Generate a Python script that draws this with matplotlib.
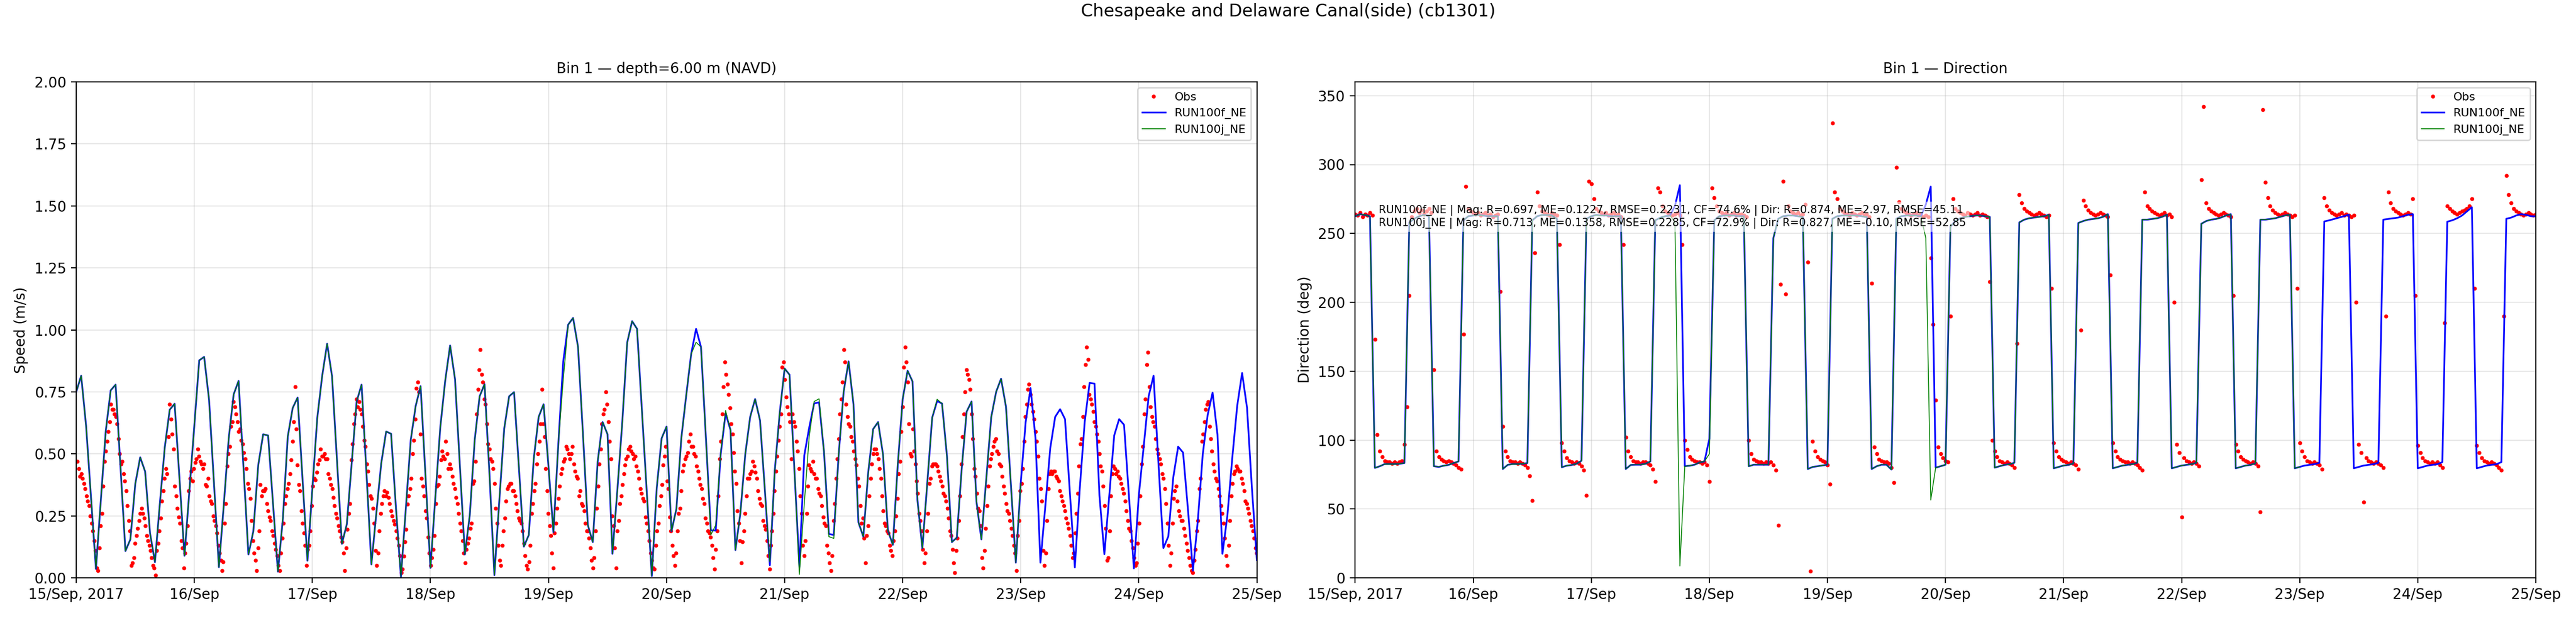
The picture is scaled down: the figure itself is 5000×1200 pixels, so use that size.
import numpy as np
import pandas as pd
import matplotlib
matplotlib.use("Agg")
import matplotlib.pyplot as plt
import matplotlib.dates as mdates
from matplotlib.ticker import FuncFormatter

# ---------------- data ----------------
START = "2017-09-15 00:00"
END = "2017-09-25 00:00"
SUPTITLE = "Chesapeake and Delaware Canal(side) (cb1301)"
TITLE_SPEED = "Bin 1 \u2014 depth=6.00 m (NAVD)"
TITLE_DIR = "Bin 1 \u2014 Direction"
LABELS = ["Obs", "RUN100f_NE", "RUN100j_NE"]
STATS = [
    "RUN100f_NE | Mag: R=0.697, ME=0.1227, RMSE=0.2231, CF=74.6% | Dir: R=0.874, ME=2.97, RMSE=45.11",
    "RUN100j_NE | Mag: R=0.713, ME=0.1358, RMSE=0.2285, CF=72.9% | Dir: R=0.827, ME=-0.10, RMSE=52.85",
]

MODEL_STEP_H = 1.0          # model output every hour
OBS_SPEED_STEP_MIN = 15.6   # observed speed sampling
OBS_DIR_STEP_MIN = 30.0     # observed direction sampling

# model speed (m/s), hourly from 15 Sep 00:00
model_speed_f = [
    0.750, 0.815, 0.613, 0.325, 0.036, 0.314, 0.592, 0.756, 0.779, 0.444, 0.108, 0.155,
    0.379, 0.486, 0.429, 0.180, 0.063, 0.300, 0.527, 0.678, 0.702, 0.397, 0.089, 0.350,
    0.613, 0.877, 0.891, 0.718, 0.380, 0.043, 0.296, 0.563, 0.740, 0.794, 0.444, 0.094,
    0.188, 0.455, 0.579, 0.574, 0.300, 0.025, 0.238, 0.570, 0.685, 0.727, 0.398, 0.069,
    0.360, 0.646, 0.815, 0.944, 0.812, 0.474, 0.137, 0.216, 0.463, 0.711, 0.779, 0.420,
    0.054, 0.260, 0.462, 0.590, 0.581, 0.280, 0.004, 0.280, 0.556, 0.693, 0.773, 0.410,
    0.040, 0.325, 0.606, 0.794, 0.937, 0.801, 0.447, 0.094, 0.253, 0.556, 0.732, 0.781,
    0.420, 0.011, 0.310, 0.602, 0.732, 0.749, 0.440, 0.126, 0.173, 0.480, 0.649, 0.700,
    0.449, 0.184, 0.540, 0.873, 1.021, 1.048, 0.932, 0.582, 0.213, 0.144, 0.469, 0.628,
    0.579, 0.097, 0.354, 0.628, 0.949, 1.035, 1.004, 0.672, 0.339, 0.007, 0.361, 0.563,
    0.610, 0.188, 0.278, 0.563, 0.736, 0.902, 1.004, 0.931, 0.564, 0.191, 0.191, 0.498,
    0.664, 0.596, 0.112, 0.260, 0.498, 0.649, 0.721, 0.635, 0.350, 0.051, 0.433, 0.664,
    0.844, 0.819, 0.433, 0.043, 0.494, 0.606, 0.703, 0.708, 0.510, 0.177, 0.173, 0.500,
    0.750, 0.873, 0.700, 0.224, 0.166, 0.426, 0.600, 0.628, 0.498, 0.191, 0.133, 0.455,
    0.721, 0.835, 0.792, 0.314, 0.119, 0.382, 0.646, 0.713, 0.703, 0.491, 0.144, 0.162,
    0.440, 0.670, 0.711, 0.307, 0.155, 0.400, 0.648, 0.750, 0.803, 0.690, 0.375, 0.061,
    0.382, 0.628, 0.765, 0.563, 0.061, 0.290, 0.523, 0.649, 0.680, 0.640, 0.340, 0.042,
    0.360, 0.628, 0.786, 0.783, 0.332, 0.095, 0.332, 0.574, 0.640, 0.617, 0.330, 0.038,
    0.332, 0.530, 0.732, 0.815, 0.460, 0.120, 0.167, 0.404, 0.529, 0.505, 0.274, 0.029,
    0.231, 0.498, 0.657, 0.747, 0.577, 0.097, 0.249, 0.483, 0.693, 0.826, 0.686, 0.360,
    0.072,
]

model_speed_j = [
    0.750, 0.815, 0.613, 0.325, 0.036, 0.314, 0.592, 0.756, 0.779, 0.444, 0.108, 0.155,
    0.379, 0.486, 0.429, 0.180, 0.063, 0.300, 0.527, 0.678, 0.702, 0.397, 0.089, 0.350,
    0.613, 0.877, 0.891, 0.718, 0.380, 0.043, 0.296, 0.563, 0.740, 0.794, 0.444, 0.094,
    0.188, 0.455, 0.579, 0.574, 0.300, 0.025, 0.238, 0.570, 0.685, 0.727, 0.398, 0.069,
    0.360, 0.646, 0.815, 0.944, 0.812, 0.474, 0.137, 0.216, 0.463, 0.711, 0.779, 0.420,
    0.054, 0.260, 0.462, 0.590, 0.581, 0.280, 0.004, 0.280, 0.556, 0.693, 0.773, 0.410,
    0.040, 0.325, 0.606, 0.794, 0.937, 0.801, 0.447, 0.094, 0.253, 0.556, 0.732, 0.781,
    0.420, 0.011, 0.310, 0.602, 0.732, 0.749, 0.440, 0.126, 0.173, 0.480, 0.649, 0.700,
    0.449, 0.184, 0.540, 0.800, 1.021, 1.048, 0.932, 0.582, 0.213, 0.144, 0.469, 0.628,
    0.579, 0.097, 0.354, 0.628, 0.949, 1.035, 1.004, 0.672, 0.339, 0.007, 0.361, 0.563,
    0.610, 0.188, 0.278, 0.563, 0.736, 0.902, 0.950, 0.931, 0.564, 0.173, 0.213, 0.505,
    0.675, 0.596, 0.112, 0.260, 0.498, 0.649, 0.721, 0.635, 0.350, 0.065, 0.433, 0.664,
    0.844, 0.819, 0.433, 0.014, 0.300, 0.570, 0.711, 0.722, 0.510, 0.166, 0.159, 0.500,
    0.750, 0.873, 0.700, 0.224, 0.166, 0.426, 0.600, 0.628, 0.498, 0.191, 0.133, 0.455,
    0.721, 0.835, 0.792, 0.314, 0.119, 0.382, 0.646, 0.720, 0.703, 0.491, 0.144, 0.162,
    0.440, 0.670, 0.711, 0.307, 0.155, 0.400, 0.648, 0.750, 0.803, 0.690, 0.375, 0.061,
    0.382,
]

# model direction (deg), hourly
model_dir_f = [
    262.5, 264.0, 263.4, 262.5, 79.8, 81.0, 82.6, 82.6, 82.6, 82.8, 83.3, 258.0,
    260.6, 262.5, 263.4, 262.5, 81.0, 80.5, 81.4, 82.0, 83.3, 84.5, 259.5, 262.5,
    263.0, 263.4, 263.0, 262.5, 262.5, 262.5, 79.0, 82.0, 82.6, 82.6, 82.8, 83.3,
    259.5, 262.5, 263.4, 263.4, 263.0, 260.6, 80.3, 81.4, 81.9, 82.8, 85.0, 260.6,
    262.5, 263.4, 263.0, 263.0, 262.5, 262.5, 262.5, 79.0, 81.9, 82.1, 82.1, 82.8,
    84.5, 259.5, 261.4, 262.5, 263.0, 270.0, 285.0, 81.0, 81.4, 82.1, 83.8, 84.5,
    101.0, 259.5, 262.5, 263.0, 263.0, 263.0, 262.5, 262.5, 81.0, 82.1, 82.1, 82.1,
    82.1, 246.6, 260.6, 262.5, 263.0, 263.0, 262.5, 261.8, 79.0, 80.5, 81.0, 81.6,
    82.1, 260.6, 262.5, 263.0, 263.0, 263.0, 263.0, 262.5, 261.8, 79.0, 81.0, 82.1,
    82.1, 78.6, 260.6, 262.5, 263.0, 263.0, 263.0, 262.5, 271.0, 284.0, 80.0, 81.0,
    82.1, 255.0, 259.0, 261.0, 262.0, 262.5, 263.0, 263.0, 262.5, 262.0, 80.0, 81.0,
    82.0, 82.5, 83.5, 258.0, 260.0, 261.0, 261.5, 262.0, 262.5, 263.5, 79.5, 80.5,
    81.5, 82.0, 83.0, 257.6, 259.0, 260.0, 260.5, 261.0, 262.0, 264.0, 79.5, 80.5,
    81.5, 82.0, 82.5, 83.5, 260.0, 260.0, 260.5, 261.0, 262.0, 263.6, 79.5, 80.5,
    81.5, 82.0, 82.5, 83.5, 257.0, 259.0, 260.0, 260.5, 261.5, 263.0, 264.0, 79.5,
    80.5, 81.5, 82.0, 83.0, 260.0, 260.0, 260.5, 261.0, 262.0, 263.0, 263.6, 79.5,
    80.5, 81.5, 82.0, 82.5, 83.5, 258.7, 259.5, 260.5, 261.5, 262.5, 263.6, 79.5,
    80.5, 81.5, 82.0, 82.5, 83.5, 260.0, 260.5, 261.0, 261.5, 262.5, 263.5, 264.0,
    79.5, 80.5, 81.5, 82.0, 82.5, 84.0, 258.5, 259.5, 261.0, 263.0, 266.0, 269.0,
    79.5, 80.5, 81.5, 82.0, 82.5, 84.0, 260.6, 261.5, 263.0, 264.0, 263.5, 262.5,
    262.4,
]

model_dir_j = [
    262.5, 264.0, 263.4, 262.5, 79.8, 81.0, 82.6, 82.6, 82.6, 82.8, 83.3, 258.0,
    260.6, 262.5, 263.4, 262.5, 81.0, 80.5, 81.4, 82.0, 83.3, 84.5, 259.5, 262.5,
    263.0, 263.4, 263.0, 262.5, 262.5, 262.5, 79.0, 82.0, 82.6, 82.6, 82.8, 83.3,
    259.5, 262.5, 263.4, 263.4, 263.0, 260.6, 80.3, 81.4, 81.9, 82.8, 85.0, 260.6,
    262.5, 263.4, 263.0, 263.0, 262.5, 262.5, 262.5, 79.0, 81.9, 82.1, 82.1, 82.8,
    84.5, 259.5, 261.4, 262.5, 263.0, 258.0, 8.6, 81.0, 81.4, 82.1, 83.8, 84.5,
    90.0, 259.5, 262.5, 263.0, 263.0, 263.0, 262.5, 262.5, 81.0, 82.1, 82.1, 82.1,
    82.1, 246.6, 260.6, 262.5, 263.0, 263.0, 262.5, 261.8, 79.0, 80.5, 81.0, 81.6,
    82.1, 260.6, 262.5, 263.0, 263.0, 263.0, 263.0, 262.5, 261.8, 79.0, 81.0, 82.1,
    82.1, 78.6, 260.6, 262.5, 263.0, 263.0, 263.0, 262.5, 246.6, 56.5, 80.0, 81.0,
    82.1, 255.0, 259.0, 261.0, 262.0, 262.5, 263.0, 263.0, 262.5, 262.0, 80.0, 81.0,
    82.0, 82.5, 83.5, 258.0, 260.0, 261.0, 261.5, 262.0, 262.5, 263.5, 79.5, 80.5,
    81.5, 82.0, 83.0, 257.6, 259.0, 260.0, 260.5, 261.0, 262.0, 264.0, 79.5, 80.5,
    81.5, 82.0, 82.5, 83.5, 260.0, 260.0, 260.5, 261.0, 262.0, 263.6, 79.5, 80.5,
    81.5, 82.0, 82.5, 83.5, 257.0, 259.0, 260.0, 260.5, 261.5, 263.0, 264.0, 79.5,
    80.5, 81.5, 82.0, 83.0, 260.0, 260.0, 260.5, 261.0, 262.0, 263.0, 263.6, 79.5,
    80.5,
]

# observed speed (m/s), every 15.6 min from 15 Sep 00:00
obs_speed_a = [
    0.47, 0.47, 0.44, 0.41, 0.42, 0.40, 0.38, 0.36, 0.33, 0.31,
    0.29, 0.25, 0.22, 0.19, 0.15, 0.11, 0.04, 0.03, 0.12, 0.21,
    0.26, 0.37, 0.47, 0.51, 0.55, 0.59, 0.63, 0.70, 0.68, 0.68,
    0.66, 0.65, 0.62, 0.56, 0.50, 0.46, 0.47, 0.42, 0.39, 0.35,
    0.29, 0.23, 0.19, 0.05, 0.06, 0.08, 0.14, 0.17, 0.20, 0.23,
    0.26, 0.28, 0.26, 0.24, 0.21, 0.17, 0.15, 0.13, 0.11, 0.08,
    0.05, 0.04, 0.01, 0.11, 0.14, 0.19, 0.24, 0.31, 0.35, 0.40,
    0.44, 0.42, 0.57, 0.70, 0.64, 0.58, 0.52, 0.37, 0.33, 0.28,
    0.245, 0.22, 0.15, 0.12, 0.04, 0.10, 0.14, 0.21, 0.35, 0.40,
    0.43, 0.39, 0.44, 0.465, 0.48, 0.52, 0.49, 0.47, 0.46, 0.44,
    0.46, 0.375, 0.37, 0.40, 0.33, 0.31, 0.30, 0.25, 0.23, 0.21,
    0.18, 0.13, 0.10, 0.07, 0.03, 0.065, 0.22, 0.30, 0.45, 0.50,
    0.53, 0.61, 0.63, 0.71, 0.69, 0.66, 0.63, 0.59, 0.60, 0.555,
    0.54, 0.505, 0.48, 0.44, 0.38, 0.36, 0.32, 0.23, 0.15, 0.10,
    0.07, 0.03, 0.12, 0.19, 0.375, 0.33, 0.35, 0.35, 0.36, 0.30,
    0.27, 0.245, 0.23, 0.19, 0.17, 0.14, 0.115, 0.09, 0.05, 0.03,
    0.10, 0.16, 0.22, 0.30, 0.33, 0.36, 0.38, 0.42, 0.475, 0.55,
    0.63, 0.77, 0.60, 0.455, 0.375, 0.35, 0.27, 0.22, 0.18, 0.13,
    0.05, 0.115, 0.13, 0.19, 0.29, 0.37, 0.40, 0.395, 0.425, 0.46,
    0.475, 0.52, 0.49, 0.49, 0.50, 0.48, 0.48, 0.42, 0.40, 0.375,
    0.36, 0.325, 0.29, 0.26, 0.24, 0.21, 0.19, 0.165, 0.145, 0.10,
    0.03, 0.12, 0.195, 0.26, 0.30, 0.475, 0.54, 0.62, 0.66, 0.72,
    0.69, 0.71, 0.68, 0.66, 0.61, 0.555, 0.53, 0.46, 0.43, 0.375,
    0.33, 0.32, 0.28, 0.22, 0.11, 0.05, 0.10, 0.19, 0.26, 0.30,
    0.33, 0.35, 0.33, 0.345, 0.325, 0.30, 0.27, 0.25, 0.23, 0.215,
    0.19, 0.16, 0.13, 0.09, 0.02, 0.035, 0.087, 0.145, 0.195, 0.296,
    0.33, 0.36, 0.40, 0.50, 0.555, 0.64, 0.765, 0.79, 0.75, 0.58,
    0.40, 0.37, 0.33, 0.27, 0.24, 0.165, 0.10, 0.05, 0.08, 0.115,
    0.17, 0.30, 0.37, 0.375, 0.41, 0.475, 0.51, 0.49, 0.48, 0.55,
    0.50, 0.44, 0.46, 0.44, 0.41, 0.38, 0.36, 0.325, 0.30, 0.26,
    0.22, 0.19, 0.15, 0.10, 0.06, 0.115, 0.14, 0.16, 0.20,
]
obs_speed_b = [
    0.22, 0.38, 0.39, 0.47, 0.66, 0.76, 0.84, 0.92, 0.82, 0.79,
    0.72, 0.70, 0.62, 0.54, 0.52, 0.48, 0.47, 0.44, 0.38, 0.28,
    0.22, 0.13, 0.07, 0.05, 0.13, 0.19, 0.24, 0.31, 0.36, 0.37,
    0.38, 0.38, 0.35, 0.35, 0.33, 0.30, 0.27, 0.24, 0.23, 0.22,
    0.19, 0.14, 0.09, 0.05, 0.035, 0.065, 0.13, 0.26, 0.30, 0.35,
    0.38, 0.46, 0.50, 0.55, 0.62, 0.76, 0.62, 0.57, 0.44, 0.35,
    0.26, 0.21, 0.17, 0.10, 0.04, 0.18, 0.22, 0.28, 0.32, 0.37,
    0.42, 0.44, 0.47, 0.48, 0.53, 0.52, 0.50, 0.48, 0.50, 0.53,
    0.46, 0.43, 0.41, 0.40, 0.33, 0.35, 0.30, 0.29, 0.27, 0.22,
    0.19, 0.19, 0.16, 0.12, 0.07, 0.04, 0.08, 0.19, 0.28, 0.37,
    0.46, 0.52, 0.62, 0.66, 0.68, 0.75, 0.70, 0.63, 0.55, 0.48,
    0.25, 0.21, 0.12, 0.04, 0.19, 0.23, 0.30, 0.33, 0.375, 0.42,
    0.455, 0.48, 0.49, 0.52, 0.53, 0.51, 0.50, 0.48, 0.49, 0.45,
    0.43, 0.40, 0.36, 0.34, 0.32, 0.31, 0.245, 0.22, 0.19, 0.15,
    0.10, 0.07, 0.04, 0.035, 0.13, 0.19, 0.22, 0.29, 0.33, 0.375,
    0.455, 0.49, 0.53, 0.39, 0.36, 0.245, 0.19, 0.13, 0.09, 0.05,
    0.10, 0.19, 0.26, 0.28, 0.35, 0.43, 0.455, 0.48, 0.49, 0.505,
    0.55, 0.58, 0.53, 0.53, 0.50, 0.49, 0.45, 0.43, 0.40, 0.375,
    0.36, 0.32, 0.30, 0.24, 0.22, 0.19, 0.18, 0.165, 0.13, 0.08,
    0.035, 0.115, 0.19, 0.33, 0.48, 0.55, 0.66, 0.77, 0.87, 0.82,
    0.78, 0.74, 0.685, 0.62, 0.58, 0.505, 0.43, 0.38, 0.27, 0.22,
    0.15, 0.06, 0.145, 0.19, 0.26, 0.33, 0.40, 0.40, 0.42, 0.43,
    0.47, 0.45, 0.425, 0.40, 0.35, 0.32, 0.30, 0.29, 0.23, 0.21,
    0.195, 0.15, 0.09, 0.035, 0.13, 0.19, 0.26, 0.35, 0.43, 0.49,
    0.555, 0.61, 0.66, 0.85, 0.87, 0.80, 0.73, 0.69, 0.66, 0.63,
    0.48, 0.66, 0.63, 0.61, 0.55, 0.51, 0.44, 0.33, 0.26, 0.13,
    0.09, 0.15, 0.26, 0.37, 0.455, 0.44, 0.43, 0.47, 0.42, 0.40,
    0.40, 0.36, 0.34, 0.33, 0.29, 0.245, 0.22, 0.21, 0.13, 0.10,
    0.06, 0.03, 0.09, 0.23, 0.30, 0.40, 0.48, 0.56, 0.66, 0.72,
    0.79, 0.92, 0.87, 0.70, 0.65, 0.62, 0.61, 0.57, 0.55, 0.51,
    0.48, 0.455, 0.40, 0.37, 0.29, 0.22,
]
obs_speed_c = [
    0.24, 0.16, 0.06, 0.17, 0.21, 0.33, 0.40, 0.46, 0.50, 0.52,
    0.52, 0.50, 0.48, 0.44, 0.40, 0.33, 0.27, 0.22, 0.21, 0.19,
    0.18, 0.13, 0.11, 0.09, 0.15, 0.19, 0.25, 0.32, 0.42, 0.47,
    0.59, 0.69, 0.85, 0.93, 0.87, 0.79, 0.62, 0.50, 0.49, 0.60,
    0.51, 0.46, 0.39, 0.34, 0.26, 0.23, 0.19, 0.115, 0.06, 0.10,
    0.19, 0.26, 0.38, 0.40, 0.45, 0.46, 0.46, 0.46, 0.45, 0.43,
    0.41, 0.39, 0.37, 0.34, 0.33, 0.31, 0.28, 0.24, 0.19, 0.17,
    0.115, 0.06, 0.02, 0.11, 0.16, 0.23, 0.33, 0.46, 0.57, 0.66,
    0.75, 0.84, 0.82, 0.80, 0.76, 0.66, 0.56, 0.44, 0.41, 0.34,
    0.28, 0.27, 0.21, 0.08, 0.04, 0.11, 0.20, 0.29, 0.37, 0.45,
    0.48, 0.50, 0.53, 0.55, 0.56, 0.51, 0.50, 0.46, 0.45, 0.41,
    0.37, 0.34, 0.30, 0.27, 0.26, 0.23, 0.20, 0.17, 0.13, 0.10,
    0.03, 0.17, 0.23, 0.35, 0.38, 0.44, 0.55, 0.65, 0.70, 0.76,
    0.78, 0.74, 0.70, 0.67, 0.64, 0.59, 0.55, 0.49, 0.40, 0.36,
    0.31, 0.11, 0.05, 0.10, 0.23, 0.36, 0.42, 0.43, 0.42, 0.43,
    0.43, 0.41, 0.40, 0.39, 0.35, 0.33, 0.31, 0.29, 0.27, 0.24,
    0.22, 0.20, 0.17, 0.13, 0.08, 0.10, 0.18, 0.26, 0.34, 0.45,
    0.54, 0.56, 0.65, 0.77, 0.86, 0.93, 0.88, 0.74, 0.72, 0.70,
    0.67, 0.63, 0.61, 0.58, 0.55, 0.50, 0.45, 0.43, 0.37, 0.29,
    0.20, 0.07, 0.08, 0.19, 0.33, 0.42, 0.45, 0.44, 0.42, 0.43,
    0.41, 0.40, 0.38, 0.36, 0.34, 0.31, 0.27, 0.23, 0.20, 0.19,
    0.15, 0.12, 0.08, 0.05, 0.06, 0.14, 0.22, 0.33, 0.46, 0.53,
    0.66, 0.72, 0.86, 0.91, 0.77, 0.69, 0.65, 0.63, 0.61, 0.56,
    0.52, 0.50, 0.48, 0.46, 0.42, 0.40, 0.36, 0.30, 0.22, 0.13,
    0.05, 0.10, 0.22, 0.32, 0.35, 0.37, 0.31, 0.27, 0.25, 0.23,
    0.23, 0.20, 0.17, 0.14, 0.11, 0.08, 0.05, 0.03, 0.02, 0.07,
    0.115, 0.19, 0.23, 0.36, 0.40, 0.55, 0.58, 0.63, 0.68, 0.70,
    0.71, 0.61, 0.56, 0.51, 0.46, 0.43, 0.40, 0.39, 0.36, 0.33,
    0.29, 0.26, 0.22, 0.16, 0.09, 0.05, 0.13, 0.23, 0.33, 0.38,
    0.42, 0.43, 0.45, 0.44, 0.43, 0.43, 0.40, 0.38, 0.35, 0.31,
    0.30, 0.28, 0.26, 0.23, 0.21, 0.19, 0.16, 0.12, 0.10,
]

# observed direction (deg), every 30 min from 15 Sep 00:00
obs_dir = [
    264, 263, 265, 262, 264, 263, 265, 263, 173, 104,
    92, 88, 85, 84, 84, 83, 84, 83, 84, 85,
    97, 124, 205,
    262, 266, 268, 265, 267, 264, 266, 268, 265,
    151, 92,
    88, 86, 85, 84, 85, 84, 83, 82, 80,
    79, 177, 284,
    268, 266, 265, 264, 265, 263, 264, 265, 263, 264, 262, 263, 264,
    208, 110,
    92, 88, 85, 84, 84, 83, 84, 83, 82, 80,
    74, 56, 236,
    280, 270, 266, 265, 264, 263, 265, 264, 263,
    242, 98,
    92, 87, 85, 84, 83, 84, 83, 81, 78,
    60, 288,
    286, 275, 268, 266, 265, 264, 265, 263, 264, 265, 263, 264, 262,
    242, 102,
    92, 88, 85, 84, 84, 83, 84, 84, 83, 82, 79,
    70, 283,
    280, 270, 266, 265, 264, 263, 264, 265, 263,
    242, 100,
    93, 88, 86, 85, 84, 84, 83, 84, 82,
    70, 283,
    276, 270, 266, 265, 264, 265, 263, 264, 265, 263, 264, 264, 263, 262,
    100, 90,
    86, 85, 84, 84, 83, 84, 83, 84, 82,
    78, 38, 213,
    288, 206, 270, 266, 265, 264, 265, 263, 264, 271,
    229, 5,
    99, 92, 88, 86, 85, 84, 82,
    68, 330,
    280, 275, 268, 266, 265, 264, 263, 265, 264, 263, 264, 265, 263, 264, 262,
    214, 95,
    90, 86, 85, 84, 84, 83, 80,
    69, 298,
    273, 268, 266, 265, 264, 263, 264, 265, 263, 264, 262, 263, 262,
    232, 184, 129,
    95, 90, 87, 85, 84,
    190,
    275, 268, 266, 265, 264, 263, 265, 264, 263, 264, 265, 263, 264, 263, 262,
    215, 100,
    92, 88, 85, 84, 83, 84, 83, 82, 80,
    170, 278,
    272, 268, 266, 265, 264, 263, 264, 265, 264, 263, 262, 263,
    210, 98,
    92, 88, 86, 85, 84, 83, 84, 83, 82, 79,
    180, 274,
    270, 267, 265, 264, 263, 264, 265, 264, 263, 262,
    220, 98,
    92, 88, 86, 85, 84, 84, 83, 84, 83, 82, 80, 78,
    280, 270,
    268, 266, 265, 264, 263, 264, 265, 263, 264, 262,
    200, 97,
    91, 44, 87, 85, 84, 83, 84, 83, 81,
    289, 342,
    272, 268, 266, 265, 264, 263, 264, 265, 264, 263, 262,
    205, 97,
    92, 88, 86, 85, 84, 83, 84, 83, 81, 48,
    340, 287,
    276, 270, 267, 265, 264, 263, 264, 265, 264, 263, 262, 263,
    210, 98,
    92, 88, 85, 84, 83, 84, 83, 82, 79,
    276,
    270, 267, 265, 264, 263, 264, 265, 263, 264, 263, 262, 263,
    200, 97,
    91, 55, 87, 85, 84, 83, 84, 83, 82, 80,
    190, 280,
    272, 268, 266, 265, 264, 263, 264, 265, 264, 275,
    205, 96,
    91, 87, 85, 84, 83, 84, 83, 84, 82, 80,
    185, 270,
    268, 266, 265, 264, 265, 266, 267, 268, 270, 275,
    210, 96,
    91, 87, 85, 84, 83, 84, 83, 82, 80, 78,
    190, 292, 278,
    272, 268, 266, 265, 264, 263, 264, 265, 264, 263, 264,
]

# ---------------- build time axes ----------------
t0 = pd.Timestamp(START)
obs_speed = obs_speed_a + obs_speed_b + obs_speed_c


def model_times(values):
    return (t0 + pd.to_timedelta(np.arange(len(values)) * MODEL_STEP_H, unit="h")).to_numpy()


t_obs_speed = (t0 + pd.to_timedelta(np.arange(len(obs_speed)) * OBS_SPEED_STEP_MIN, unit="min")).to_numpy()
t_obs_dir = (t0 + pd.to_timedelta(np.arange(len(obs_dir)) * OBS_DIR_STEP_MIN, unit="min")).to_numpy()

# ---------------- figure ----------------
fig = plt.figure(figsize=(25, 6), dpi=200)
fig.subplots_adjust(left=0.0296, right=0.9844, bottom=0.065, top=0.8675, wspace=0.0833)
ax1 = fig.add_subplot(1, 2, 1)
ax2 = fig.add_subplot(1, 2, 2)

OBS_KW = dict(color="red", marker=".", linestyle="none", markersize=3.6)
F_KW = dict(color="blue", linewidth=1.2)
J_KW = dict(color="green", linewidth=0.6)

ax1.plot(t_obs_speed, obs_speed, label=LABELS[0], **OBS_KW)
ax1.plot(model_times(model_speed_f), model_speed_f, label=LABELS[1], **F_KW)
ax1.plot(model_times(model_speed_j), model_speed_j, label=LABELS[2], **J_KW)

ax2.plot(t_obs_dir, obs_dir, label=LABELS[0], **OBS_KW)
ax2.plot(model_times(model_dir_f), model_dir_f, label=LABELS[1], **F_KW)
ax2.plot(model_times(model_dir_j), model_dir_j, label=LABELS[2], **J_KW)


def day_fmt(x, pos):
    d = mdates.num2date(x)
    return d.strftime("%d/%b, %Y") if pos == 0 else d.strftime("%d/%b")


xlim = (mdates.date2num(pd.Timestamp(START).to_pydatetime()),
        mdates.date2num(pd.Timestamp(END).to_pydatetime()))
for ax in (ax1, ax2):
    ax.set_xlim(*xlim)
    ax.xaxis.set_major_locator(mdates.DayLocator())
    ax.xaxis.set_major_formatter(FuncFormatter(day_fmt))
    ax.grid(True, alpha=0.3)
    ax.legend(loc="upper right", fontsize=8)

ax1.set_ylim(0, 2.0)
ax1.set_ylabel("Speed (m/s)")
ax1.set_title(TITLE_SPEED, fontsize=10)

ax2.set_ylim(0, 360)
ax2.set_ylabel("Direction (deg)")
ax2.set_title(TITLE_DIR, fontsize=10)
ax2.text(0.02, 0.752, "\n".join(STATS), transform=ax2.transAxes, fontsize=7.5,
         ha="left", va="top", zorder=10,
         bbox=dict(boxstyle="round,pad=0.3", facecolor="white", edgecolor="none", alpha=0.6))

fig.suptitle(SUPTITLE, fontsize=12, y=0.995, va="top")
fig.savefig("out.png", dpi=200)
